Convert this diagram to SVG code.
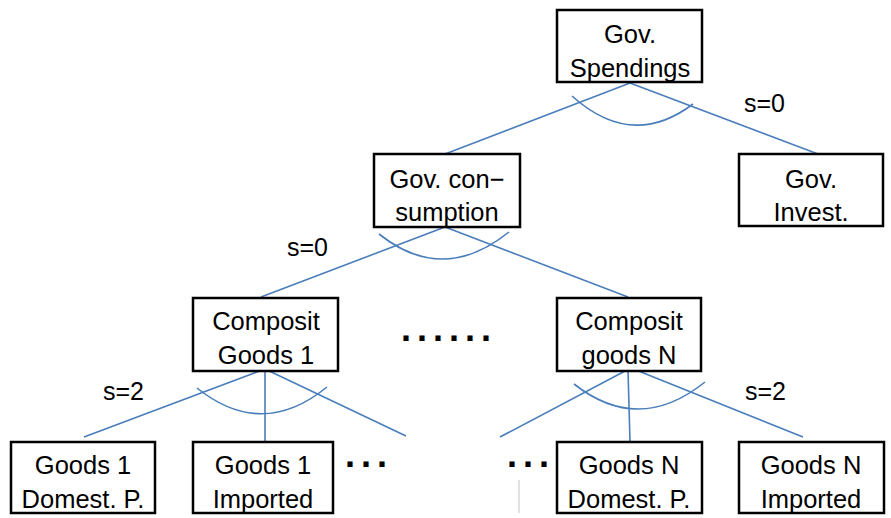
<svg xmlns="http://www.w3.org/2000/svg" width="891" height="518" viewBox="0 0 891 518">
<style>
.box{fill:#fff;stroke:#000;stroke-width:2.5}
.t{font-family:"Liberation Sans",Arial,sans-serif;font-size:25.5px;fill:#000;text-anchor:middle}
.lbl{font-family:"Liberation Sans",Arial,sans-serif;font-size:25px;fill:#000}
.c{fill:none;stroke:#4a7ebb;stroke-width:1.6}
.dots{font-family:"Liberation Sans",sans-serif;font-weight:bold;font-size:36px;letter-spacing:6px;fill:#000}
</style>
<rect width="891" height="518" fill="#fff"/>
<g id="connectors">
<path class="c" d="M630,83 L445,154 M630,83 L818,154"/>
<path class="c" d="M572,96 Q632,150 693,104"/>
<path class="c" d="M445,227 L261,297 M445,227 L628,297"/>
<path class="c" d="M379,234 Q443,285 509,232"/>
<path class="c" d="M265,369 L84,437 M265,369 L265,442 M265,369 L406,436"/>
<path class="c" d="M197,388 Q262,440 327,387"/>
<path class="c" d="M627,370 L500,437 M628,370 L630,442 M636,370 L803,437"/>
<path class="c" d="M574,384 Q639,435 705,382"/>
</g>
<g id="gov-spendings">
<rect class="box" x="557" y="10" width="145" height="72"/>
<text class="t" x="630" y="43">Gov.</text>
<text class="t" x="630" y="77">Spendings</text>
</g>
<g id="gov-invest">
<rect class="box" x="739" y="154" width="144" height="72"/>
<text class="t" x="811" y="188">Gov.</text>
<text class="t" x="811" y="221">Invest.</text>
</g>
<g id="gov-consumption">
<rect class="box" x="374" y="154" width="146" height="73"/>
<text class="t" x="447" y="188">Gov. con−</text>
<text class="t" x="447" y="221">sumption</text>
</g>
<g id="composit-1">
<rect class="box" x="193" y="298" width="145" height="73"/>
<text class="t" x="266" y="330">Composit</text>
<text class="t" x="266" y="364">Goods 1</text>
</g>
<g id="composit-n">
<rect class="box" x="557" y="298" width="144" height="73"/>
<text class="t" x="629" y="330">Composit</text>
<text class="t" x="629" y="364">goods N</text>
</g>
<g id="goods1-domest">
<rect class="box" x="11" y="442" width="144" height="71"/>
<text class="t" x="83" y="474">Goods 1</text>
<text class="t" x="83" y="508">Domest. P.</text>
</g>
<g id="goods1-imported">
<rect class="box" x="193" y="442" width="140" height="71"/>
<text class="t" x="263" y="474">Goods 1</text>
<text class="t" x="263" y="508">Imported</text>
</g>
<g id="goodsn-domest">
<rect class="box" x="557" y="442" width="145" height="71"/>
<text class="t" x="629" y="474">Goods N</text>
<text class="t" x="629" y="508">Domest. P.</text>
</g>
<g id="goodsn-imported">
<rect class="box" x="739" y="442" width="145" height="71"/>
<text class="t" x="811" y="474">Goods N</text>
<text class="t" x="811" y="508">Imported</text>
</g>
<g id="labels">
<text class="lbl" x="744" y="112">s=0</text>
<text class="lbl" x="287" y="256">s=0</text>
<text class="lbl" x="103" y="400">s=2</text>
<text class="lbl" x="745" y="400">s=2</text>
<text class="dots" x="401" y="341">......</text>
<text class="dots" x="345" y="467">...</text>
<text class="dots" x="507" y="467">...</text>
</g>
<line x1="519" y1="480" x2="519" y2="513" stroke="#d9d9d9" stroke-width="1.5"/>
</svg>
